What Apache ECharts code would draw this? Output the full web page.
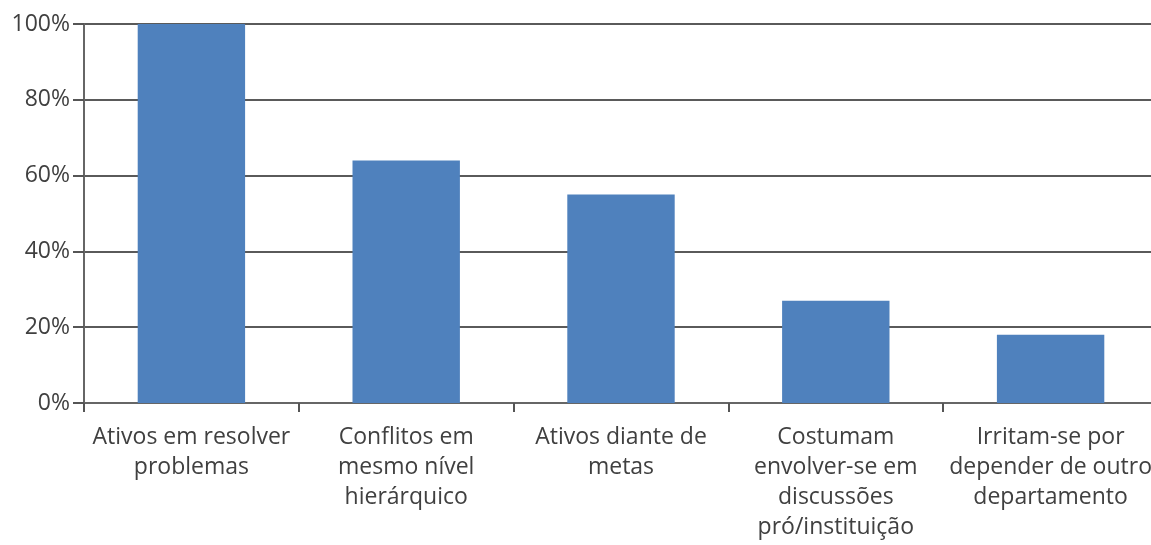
<!DOCTYPE html>
<html>
<head>
<meta charset="utf-8">
<script src="https://cdn.jsdelivr.net/npm/echarts@6/dist/echarts.min.js"></script>
<style>html,body{margin:0;padding:0;background:#fff;overflow:hidden;}#c{width:1151px;height:545px;}</style>
</head>
<body>
<div id="c"></div>
<script>
const categories = [
  'Ativos em resolver\nproblemas',
  'Conflitos em\nmesmo nível\nhierárquico',
  'Ativos diante de\nmetas',
  'Costumam\nenvolver-se em\ndiscussões\npró/instituição',
  'Irritam-se por\ndepender de outro\ndepartamento'
];
const values = [100, 64, 55, 27, 18];
const yTicks = { min: 0, max: 100, interval: 20 };

const chart = echarts.init(document.getElementById('c'));
chart.setOption({
  animation: false,
  grid: { left: 84, right: -7, top: 24, bottom: 142, outerBoundsMode: 'none', containLabel: false },
  xAxis: {
    type: 'category',
    data: categories,
    axisLine: { lineStyle: { color: '#666', width: 2 } },
    axisTick: { show: true, length: 9, lineStyle: { color: '#555', width: 2 } },
    axisLabel: { interval: 0, margin: 19, color: '#404040', fontSize: 23, lineHeight: 30, fontFamily: 'Open Sans', hideOverlap: false }
  },
  yAxis: {
    type: 'value',
    min: yTicks.min, max: yTicks.max, interval: yTicks.interval,
    axisLine: { show: true, lineStyle: { color: '#666', width: 2 } },
    axisTick: { show: true, length: 11, lineStyle: { color: '#555', width: 2 } },
    axisLabel: { formatter: '{value}%', margin: 14, color: '#404040', fontSize: 23, fontFamily: 'Open Sans' },
    splitLine: { lineStyle: { color: '#5a5a5a', width: 2 } }
  },
  series: [{
    type: 'bar',
    data: values,
    barWidth: '50%',
    itemStyle: { color: '#4f81bd' }
  }]
});
</script>
</body>
</html>
